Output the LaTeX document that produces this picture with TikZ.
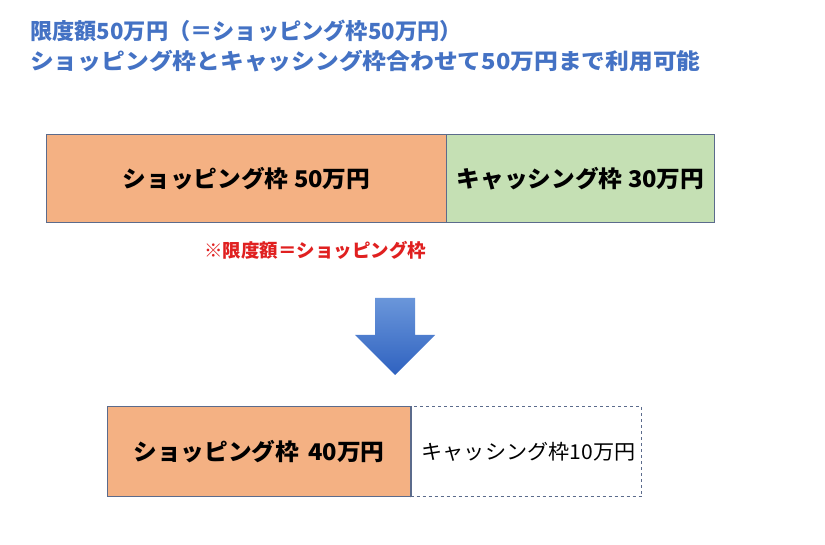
\documentclass[tikz,border=0pt]{standalone}
\usepackage{fontspec}
\newfontfamily\jp{Noto Sans CJK JP}
\newfontfamily\jpwide{Noto Sans CJK JP}[FakeStretch=1.08]
\newfontfamily\jpmid{Noto Sans CJK JP}[FakeStretch=1.03]
\definecolor{titleblue}{HTML}{4472C4}
\definecolor{shopfill}{HTML}{F4B183}
\definecolor{cashfill}{HTML}{C5E0B4}
\definecolor{edge}{HTML}{5B6B8C}
\definecolor{notered}{HTML}{E02020}
\definecolor{arrowtop}{HTML}{6A96DA}
\definecolor{arrowbot}{HTML}{2F62C0}
\tikzset{
  box/.style={rectangle, draw=edge, line width=1pt, inner sep=0pt, anchor=north west, font=\jpmid\bfseries\fontsize{23}{27}\selectfont},
  title/.style={anchor=west, inner sep=0pt, text=titleblue},
}
\begin{document}
\begin{tikzpicture}[x=1pt,y=-1pt]
\useasboundingbox[fill=white] (0,0) rectangle (825,545);
\node[title, font=\jp\bfseries\fontsize{22.2}{26}\selectfont] (t1) at (30,31) {限度額50万円（＝ショッピング枠50万円）};
\node[title, font=\jpwide\bfseries\fontsize{22}{26}\selectfont] (t2) at (30,61) {ショッピング枠とキャッシング枠合わせて50万円まで利用可能};
% top bar
\node[box, fill=shopfill, minimum width=400pt, minimum height=88pt] (s1) at (46,134) {ショッピング枠 50万円};
\node[box, fill=cashfill, minimum width=268pt, minimum height=88pt] (c1) at (446,134) {キャッシング枠 30万円};
\node[anchor=center, inner sep=0pt, text=notered, font=\jp\bfseries\fontsize{18.5}{22}\selectfont] (note) at (315,250) {※限度額＝ショッピング枠};
% arrow
\shade[top color=arrowtop, bottom color=arrowbot]
  (375,298) -- (415,298) -- (415,335) -- (435,335) -- (395,375) -- (355,335) -- (375,335) -- cycle;
% bottom bar
\node[box, fill=shopfill, minimum width=303pt, minimum height=90pt, font=\jpmid\bfseries\fontsize{23}{27}\selectfont] (s2) at (107,406) {ショッピング枠\ \,40万円};
\node[box, draw=edge, dashed, fill=white, minimum width=231pt, minimum height=90pt, font=\jpmid\fontsize{20.5}{25}\selectfont] (c2) at (410,406) {\hspace{5pt}キャッシング枠10万円};
\draw[edge, line width=1pt] (s2.north east) -- (s2.south east);
\end{tikzpicture}
\end{document}
